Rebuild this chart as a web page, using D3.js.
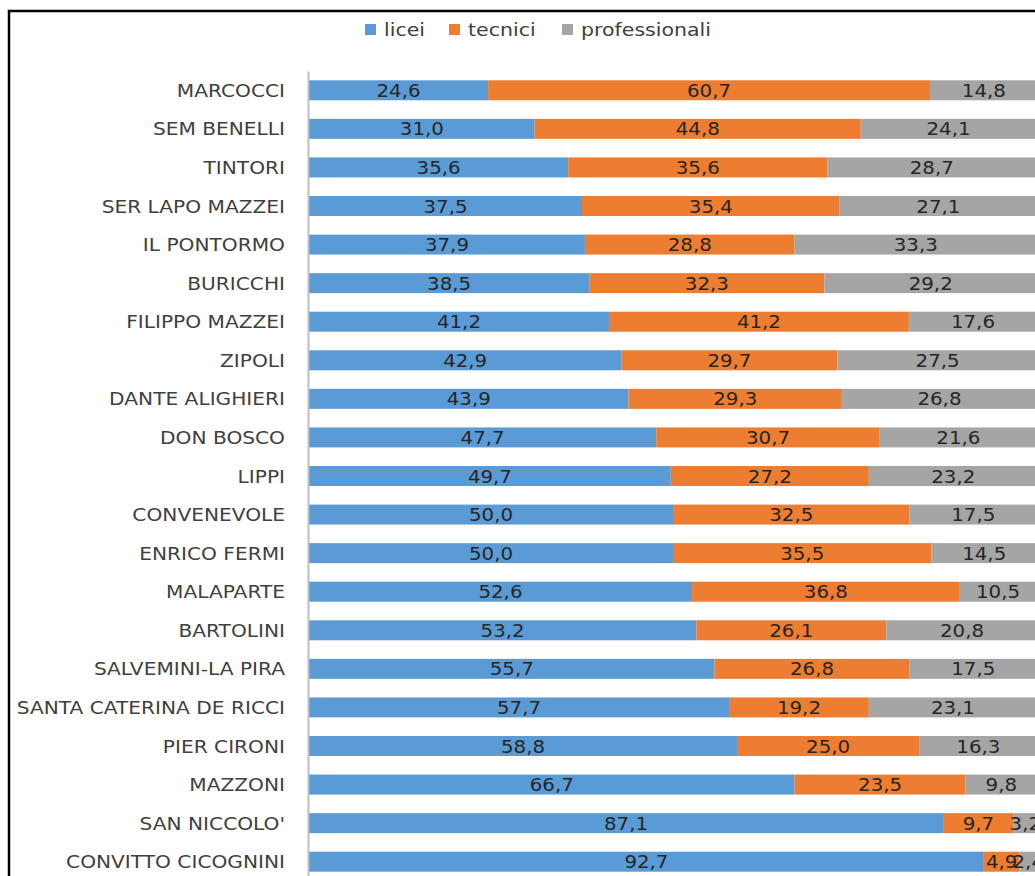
<!DOCTYPE html>
<html>
<head>
<meta charset="utf-8">
<script src="https://cdn.jsdelivr.net/npm/d3@7"></script>
<style>
  body { margin: 0; background: #fff; }
  svg { display: block; }
</style>
</head>
<body>
<div id="chart"></div>
<script>
const schools = ['MARCOCCI', 'SEM BENELLI', 'TINTORI', 'SER LAPO MAZZEI', 'IL PONTORMO', 'BURICCHI',
    'FILIPPO MAZZEI', 'ZIPOLI', 'DANTE ALIGHIERI', 'DON BOSCO', 'LIPPI', 'CONVENEVOLE', 'ENRICO FERMI',
    'MALAPARTE', 'BARTOLINI', 'SALVEMINI-LA PIRA', 'SANTA CATERINA DE RICCI', 'PIER CIRONI', 'MAZZONI',
    "SAN NICCOLO'", 'CONVITTO CICOGNINI'];
const licei = [24.6, 31.0, 35.6, 37.5, 37.9, 38.5, 41.2, 42.9, 43.9, 47.7, 49.7, 50.0, 50.0, 52.6, 53.2, 55.7, 57.7, 58.8, 66.7, 87.1, 92.7];
const tecnici = [60.7, 44.8, 35.6, 35.4, 28.8, 32.3, 41.2, 29.7, 29.3, 30.7, 27.2, 32.5, 35.5, 36.8, 26.1, 26.8, 19.2, 25.0, 23.5, 9.7, 4.9];
const professionali = [14.8, 24.1, 28.7, 27.1, 33.3, 29.2, 17.6, 27.5, 26.8, 21.6, 23.2, 17.5, 14.5, 10.5, 20.8, 17.5, 23.1, 16.3, 9.8, 3.2, 2.4];
const seriesNames = ['licei', 'tecnici', 'professionali'];

const width = 1035, height = 876;
const colors = { licei: '#5B9BD5', tecnici: '#ED7D31', professionali: '#A5A5A5' };
const font = '"DejaVu Sans", sans-serif';
const sx = 1.12; // text in the source looks a bit stretched horizontally

const rows = schools.map((s, i) => ({ school: s, licei: licei[i], tecnici: tecnici[i], professionali: professionali[i] }));
const stacked = d3.stack().keys(seriesNames)(rows);

const svg = d3.select('#chart').append('svg')
    .attr('width', width)
    .attr('height', height);

// outer frame (cropped at right and bottom)
svg.append('rect')
    .attr('x', 9).attr('y', 11)
    .attr('width', 1200).attr('height', 1000)
    .attr('fill', 'none')
    .attr('stroke', '#000')
    .attr('stroke-width', 2.5);

const x = d3.scaleLinear().domain([0, 100]).range([309, 1037]);
const y = d3.scaleBand().domain(schools).range([71, 881]).paddingInner(0.482).paddingOuter(0.241);

// bars
const layer = svg.append('g').selectAll('g')
    .data(stacked)
    .join('g')
    .attr('fill', d => colors[d.key]);

layer.selectAll('rect')
    .data(d => d)
    .join('rect')
    .attr('x', d => x(d[0]))
    .attr('y', d => y(d.data.school))
    .attr('width', d => x(d[1]) - x(d[0]))
    .attr('height', y.bandwidth());

// value labels
const fmt = v => v.toFixed(1).replace('.', ',');
layer.selectAll('text')
    .data(d => d.map(p => ({ p, key: d.key })))
    .join('text')
    .attr('transform', d => `translate(${(x(d.p[0]) + x(d.p[1])) / 2},${y(d.p.data.school) + y.bandwidth() / 2 + 6.5}) scale(1.1,1)`)
    .attr('text-anchor', 'middle')
    .attr('fill', '#262626')
    .attr('font-family', font)
    .attr('font-size', 18)
    .text(d => fmt(d.p.data[d.key]));

// category axis
const axis = svg.append('g')
    .attr('transform', 'translate(308,0)')
    .call(d3.axisLeft(y).tickSize(0).tickSizeOuter(0).tickPadding(0));
axis.select('.domain').attr('stroke', '#BFBFBF').attr('stroke-width', 2);
axis.selectAll('.tick text')
    .attr('x', -23 / sx)
    .attr('dy', null)
    .attr('y', 6.5)
    .attr('transform', `scale(${sx},1)`)
    .attr('fill', '#404040')
    .attr('font-family', font)
    .attr('font-size', 18);

// legend
const legendItems = [
    { key: 'licei', x: 365 },
    { key: 'tecnici', x: 449 },
    { key: 'professionali', x: 562 }
];
const legend = svg.append('g').selectAll('g')
    .data(legendItems)
    .join('g')
    .attr('transform', d => `translate(${d.x},29.5)`);
legend.append('rect')
    .attr('x', 0).attr('y', -5.5)
    .attr('width', 11).attr('height', 11)
    .attr('fill', d => colors[d.key]);
legend.append('text')
    .attr('transform', 'translate(19,6.5) scale(1.14,1)')
    .attr('fill', '#404040')
    .attr('font-family', font)
    .attr('font-size', 18)
    .text(d => d.key);
</script>
</body>
</html>
